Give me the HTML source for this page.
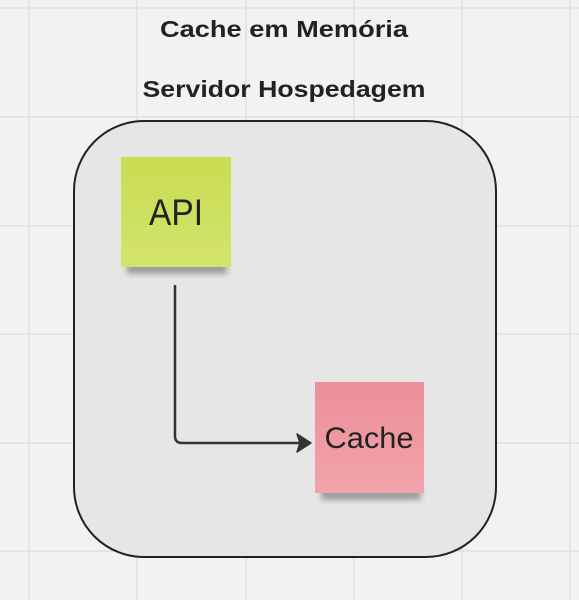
<!DOCTYPE html>
<html><head><meta charset="utf-8"><style>
html,body{margin:0;padding:0;background:#f2f2f2;}
svg{display:block;}
</style></head><body>
<svg width="579" height="600" viewBox="0 0 579 600" xmlns="http://www.w3.org/2000/svg">
<defs>
<linearGradient id="g1" x1="0" y1="0" x2="0" y2="1"><stop offset="0" stop-color="#c9dc52"/><stop offset="1" stop-color="#d3e46c"/></linearGradient>
<linearGradient id="g2" x1="0" y1="0" x2="0" y2="1"><stop offset="0" stop-color="#ec8f99"/><stop offset="1" stop-color="#f3a3ab"/></linearGradient>
<filter id="sh" x="-20%" y="-20%" width="140%" height="160%"><feGaussianBlur stdDeviation="3"/></filter>
</defs>
<rect width="579" height="600" fill="#f2f2f2"/>
<g stroke="#e4e4e4" stroke-width="2">
<line x1="29" y1="0" x2="29" y2="600"/><line x1="137" y1="0" x2="137" y2="600"/><line x1="246" y1="0" x2="246" y2="600"/><line x1="354" y1="0" x2="354" y2="600"/><line x1="462" y1="0" x2="462" y2="600"/><line x1="570" y1="0" x2="570" y2="600"/>
<line x1="0" y1="8" x2="579" y2="8"/><line x1="0" y1="117" x2="579" y2="117"/><line x1="0" y1="226" x2="579" y2="226"/><line x1="0" y1="334" x2="579" y2="334"/><line x1="0" y1="443" x2="579" y2="443"/><line x1="0" y1="551" x2="579" y2="551"/>
</g>
<text x="284" y="37" text-anchor="middle" font-family="Liberation Sans, sans-serif" font-weight="bold" font-size="23" fill="#222" textLength="248" lengthAdjust="spacingAndGlyphs">Cache em Memória</text>
<text x="284" y="97" text-anchor="middle" font-family="Liberation Sans, sans-serif" font-weight="bold" font-size="23" fill="#222" textLength="283" lengthAdjust="spacingAndGlyphs">Servidor Hospedagem</text>
<rect x="74" y="121" width="422" height="436" rx="70" ry="70" fill="#e6e6e6" stroke="#222" stroke-width="2"/>
<rect x="127" y="262" width="100" height="12" fill="#555" opacity="0.5" filter="url(#sh)"/>
<rect x="121" y="157" width="110" height="110" fill="url(#g1)"/>
<text x="176" y="225" text-anchor="middle" font-family="Liberation Sans, sans-serif" font-size="37" fill="#222" textLength="54" lengthAdjust="spacingAndGlyphs">API</text>
<rect x="321" y="488" width="100" height="12" fill="#555" opacity="0.5" filter="url(#sh)"/>
<rect x="315" y="382" width="109" height="111" fill="url(#g2)"/>
<text x="369" y="448" text-anchor="middle" font-family="Liberation Sans, sans-serif" font-size="30" fill="#222" textLength="89" lengthAdjust="spacingAndGlyphs">Cache</text>
<path d="M175 285 V436 Q175 443 182 443 H306" fill="none" stroke="#333" stroke-width="2.5"/>
<path d="M297 434 L311 443 L297 452 L300 443 Z" fill="#333" stroke="#333" stroke-width="1.5" stroke-linejoin="round"/>
</svg>
</body></html>
